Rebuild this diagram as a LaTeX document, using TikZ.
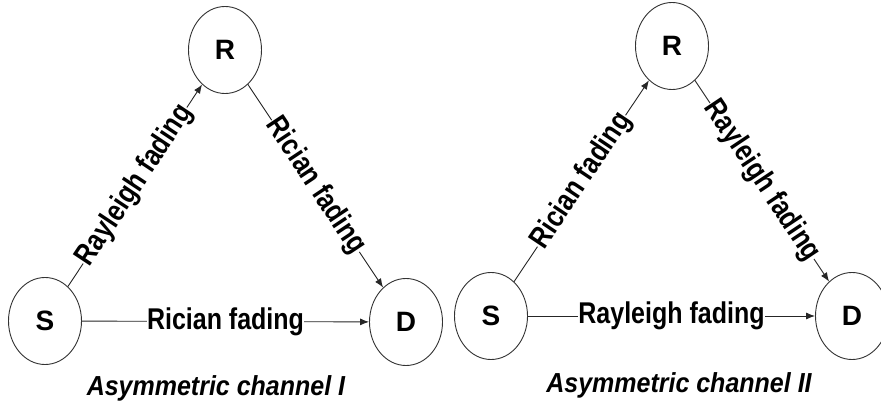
\documentclass[tikz,border=0pt]{standalone}
\usepackage{graphicx}
\usepackage{fontspec}
\setsansfont{Liberation Sans}
\usetikzlibrary{shapes.geometric,arrows.meta}
\newcommand{\lbltext}[1]{\scalebox{1}[1.2]{#1}}
\newcommand{\captext}[1]{\scalebox{1}[1.1]{#1}}
\begin{document}
\begin{tikzpicture}[x=1pt,y=-1pt,
  station/.style={ellipse,draw=black!80,line width=0.9pt,minimum width=73pt,minimum height=87pt,inner sep=0pt,
    font=\sffamily\bfseries\fontsize{28}{30}\selectfont},
  link/.style={draw=black!85,line width=0.9pt,-{Latex[length=9pt,width=7pt]}},
  lbl/.style={fill=white,inner sep=0.5pt,font=\sffamily\bfseries\fontsize{25}{28}\selectfont},
  caption/.style={font=\sffamily\bfseries\itshape\fontsize{25}{28}\selectfont}]
\useasboundingbox (0,0) rectangle (881,406);
\fill[white] (0,0) rectangle (881,406);
% left diagram
\node[station] (S1) at (45,321) {S};
\node[station] (R1) at (225,50) {R};
\node[station] (D1) at (406,322) {D};
\draw[link] (S1) -- node[lbl,sloped,midway] {\lbltext{Rayleigh fading}} (R1);
\draw[link] (R1) -- node[lbl,sloped,midway] {\lbltext{Rician fading}} (D1);
\draw[link] (S1) -- node[lbl,midway] {\lbltext{Rician fading}} (D1);
\node[caption] (C1) at (216,388) {\captext{Asymmetric channel I}};
% right diagram
\node[station] (S2) at (491,316) {S};
\node[station] (R2) at (672,46) {R};
\node[station] (D2) at (852,316) {D};
\draw[link] (S2) -- node[lbl,sloped,midway] {\lbltext{Rician fading}} (R2);
\draw[link] (R2) -- node[lbl,sloped,midway] {\lbltext{Rayleigh fading}} (D2);
\draw[link] (S2) -- node[lbl,midway] {\lbltext{Rayleigh fading}} (D2);
\node[caption] (C2) at (679,385) {\captext{Asymmetric channel II}};
\end{tikzpicture}
\end{document}
